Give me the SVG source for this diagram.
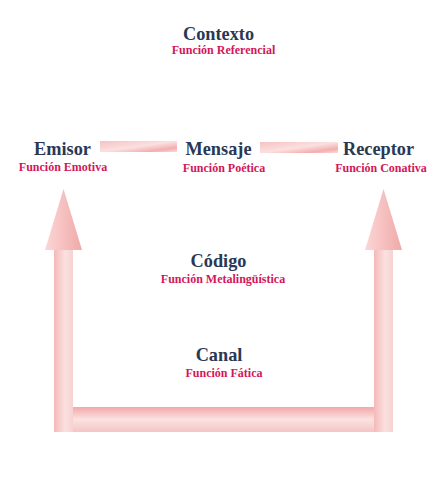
<svg xmlns="http://www.w3.org/2000/svg" width="448" height="480" viewBox="0 0 448 480">
<defs>
<linearGradient id="gBar" x1="0" y1="0" x2="1" y2="1">
<stop offset="0" stop-color="#f6c2c2"/>
<stop offset="0.5" stop-color="#fbe0e0"/>
<stop offset="0.8" stop-color="#f3aeae"/>
<stop offset="1" stop-color="#fadada"/>
</linearGradient>
<linearGradient id="gShaft" x1="0" y1="0" x2="1" y2="0">
<stop offset="0" stop-color="#f5b9b9"/>
<stop offset="0.6" stop-color="#fbe1e1"/>
<stop offset="1" stop-color="#f8d0d0"/>
</linearGradient>
<linearGradient id="gHead" x1="0" y1="0" x2="1" y2="0">
<stop offset="0" stop-color="#fbd6d6"/>
<stop offset="1" stop-color="#f1a9a9"/>
</linearGradient>
<linearGradient id="gBottom" x1="0" y1="0" x2="0" y2="1">
<stop offset="0" stop-color="#f2a8a8"/>
<stop offset="0.5" stop-color="#fbe2e2"/>
<stop offset="1" stop-color="#f6c4c4"/>
</linearGradient>
<style>
.t{font-family:"Liberation Serif","DejaVu Serif",serif;font-weight:bold;font-size:18.3px;fill:#2a3855;text-anchor:middle}
.s{font-family:"Liberation Serif","DejaVu Serif",serif;font-weight:bold;font-size:12px;fill:#d3165a;text-anchor:middle}
</style>
</defs>
<g id="connectors">
<rect x="100" y="141" width="77" height="11" fill="url(#gBar)"/>
<rect x="260" y="142" width="78" height="11" fill="url(#gBar)"/>
<rect x="54" y="250" width="19" height="182" fill="url(#gShaft)"/>
<polygon points="63.5,189 45,250 82,250" fill="url(#gHead)"/>
<rect x="374" y="250" width="19" height="182" fill="url(#gShaft)"/>
<polygon points="383.5,189 365,250 402,250" fill="url(#gHead)"/>
<rect x="73" y="407" width="301" height="25" fill="url(#gBottom)"/>
</g>
<g id="contexto"><text class="t" x="218.5" y="40">Contexto</text><text class="s" x="223.5" y="54">Función Referencial</text></g>
<g id="emisor"><text class="t" x="62.5" y="155">Emisor</text><text class="s" x="63" y="171">Función Emotiva</text></g>
<g id="mensaje"><text class="t" x="218.5" y="155">Mensaje</text><text class="s" x="224" y="172">Función Poética</text></g>
<g id="receptor"><text class="t" x="378.5" y="155">Receptor</text><text class="s" x="381" y="172">Función Conativa</text></g>
<g id="codigo"><text class="t" x="218.5" y="267">Código</text><text class="s" x="223" y="283">Función Metalingüística</text></g>
<g id="canal"><text class="t" x="219" y="361">Canal</text><text class="s" x="224" y="377">Función Fática</text></g>
</svg>
